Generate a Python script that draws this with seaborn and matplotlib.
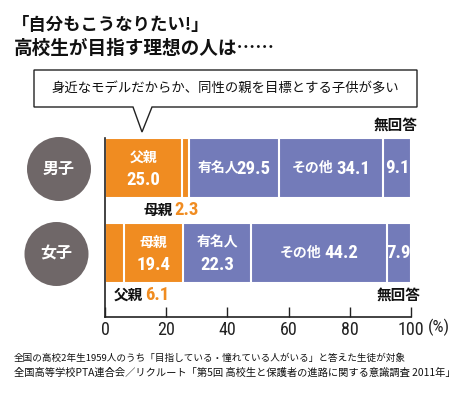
import numpy as np
import pandas as pd
import matplotlib
matplotlib.use("Agg")
import matplotlib.pyplot as plt
from matplotlib.patches import Circle, Polygon
import seaborn as sns

# ---- data ----
groups = ["男子", "女子"]
segments = ["父親", "母親", "有名人", "その他", "無回答"]
father = [25.0, 6.1]
mother = [2.3, 19.4]
celeb = [29.5, 22.3]
other = [34.1, 44.2]
noans = [9.1, 7.9]
xticks = [0, 20, 40, 60, 80, 100]

title_lines = ["「自分もこうなりたい!」", "高校生が目指す理想の人は……"]
callout = "身近なモデルだからか、同性の親を目標とする子供が多い"
notes = [
    "全国の高校2年生1959人のうち「目指している・憧れている人がいる」と答えた生徒が対象",
    "全国高等学校PTA連合会／リクルート「第5回 高校生と保護者の進路に関する意識調査 2011年」",
]

ORANGE = "#F08C21"
BLUE = "#737BB9"
GRAY = "#6F6768"

sns.set_theme(style="white")
plt.rcParams["font.family"] = ["Noto Sans CJK JP", "DejaVu Sans"]
NUM = ["Roboto Condensed", "Noto Sans CJK JP", "DejaVu Sans"]

df = pd.DataFrame({"group": groups, "父親": father, "母親": mother,
                   "有名人": celeb, "その他": other, "無回答": noans})
cum = df[segments].cumsum(axis=1)
colors = [ORANGE, ORANGE, BLUE, BLUE, BLUE]

fig = plt.figure(figsize=(4.62, 3.96), dpi=100)
ax = fig.add_axes([105 / 462, 1 - 317 / 396, 306 / 462, 179 / 396])

# stacked bars: draw from the full total down to the first segment
for seg, col in reversed(list(zip(segments, colors))):
    sns.barplot(x=cum[seg], y=df["group"], color=col, orient="h", width=0.706,
                edgecolor="white", linewidth=1.5, ax=ax, saturation=1)

ax.set_xlim(0, 100)
ax.set_ylim(1.753, -0.353)
ax.set_xticks(xticks)
ax.set_xticklabels([str(t) for t in xticks], family=NUM, fontsize=13, color="#222222")
ax.set_yticks([])
ax.set_xlabel("")
ax.set_ylabel("")
for s in ["top", "right"]:
    ax.spines[s].set_visible(False)
for s in ["left", "bottom"]:
    ax.spines[s].set_color("#222222")
    ax.spines[s].set_linewidth(1.2)
ax.tick_params(axis="x", direction="in", length=7, width=1, color="#222222", pad=3, bottom=True)

VAL_FS = 13.5
NAME_FS = 10

def center(row, seg):
    return cum.loc[row, seg] - df.loc[row, seg] / 2

def two_line(row, seg, dy=7.5):
    x = center(row, seg)
    ax.annotate(seg, (x, row), xytext=(0, dy), textcoords="offset points",
                ha="center", va="center", color="white", fontsize=NAME_FS, fontweight="bold")
    ax.annotate(f"{df.loc[row, seg]:.1f}", (x, row), xytext=(0, -dy - 1), textcoords="offset points",
                ha="center", va="center", color="white", fontsize=VAL_FS, fontweight="bold", family=NUM)

pairs = []

def one_line(row, seg, name=True, gap=2):
    x = center(row, seg)
    val = f"{df.loc[row, seg]:.1f}"
    if not name:
        ax.annotate(val, (x, row), ha="center", va="center", color="white",
                    fontsize=VAL_FS, fontweight="bold", family=NUM)
        return
    t1 = ax.annotate(seg, (x, row), xytext=(0, 0), textcoords="offset pixels",
                     ha="left", va="center", color="white", fontsize=NAME_FS, fontweight="bold")
    t2 = ax.annotate(val, (x, row), xytext=(0, -0.5), textcoords="offset pixels",
                     ha="left", va="center", color="white", fontsize=VAL_FS, fontweight="bold", family=NUM)
    pairs.append((t1, t2, gap))

# 男子
two_line(0, "父親")
one_line(0, "有名人", gap=-3)
one_line(0, "その他", gap=3)
one_line(0, "無回答", name=False)
# 女子
two_line(1, "母親")
two_line(1, "有名人")
one_line(1, "その他", gap=3)
one_line(1, "無回答", name=False)

# outside labels for thin segments and no-answer
def outside(row, seg, xy_x, dx, dy):
    ax.annotate(seg, (xy_x, row), xytext=(dx, dy), textcoords="offset points",
                ha="right", va="center", color="#111111", fontsize=10.5, fontweight="bold")
    ax.annotate(f"{df.loc[row, seg]:.1f}", (xy_x, row), xytext=(dx + 1.5, dy - 0.5), textcoords="offset points",
                ha="left", va="center", color=ORANGE, fontsize=VAL_FS, fontweight="bold", family=NUM)

outside(0, "母親", cum.loc[0, "父親"], -6.5, -30)
outside(1, "父親", cum.loc[1, "父親"], 14, -30)
ax.annotate("無回答", (100, 0), xytext=(4.5, 31), textcoords="offset points",
            ha="right", va="center", color="#111111", fontsize=10.5, fontweight="bold")
ax.annotate("無回答", (100, 1), xytext=(6.5, -30), textcoords="offset points",
            ha="right", va="center", color="#111111", fontsize=10.5, fontweight="bold")

# center each "name value" pair on its segment using measured widths
fig.canvas.draw()
renderer = fig.canvas.get_renderer()
for t1, t2, gap in pairs:
    w1 = t1.get_window_extent(renderer).width
    w2 = t2.get_window_extent(renderer).width
    left = -(w1 + gap + w2) / 2
    t1.xyann = (left, 0)
    t2.xyann = (left + w1 + gap, -0.5)

# ---- decorations in pixel space ----
ov = fig.add_axes([0, 0, 1, 1], zorder=5)
ov.set_xlim(0, 462)
ov.set_ylim(396, 0)
ov.axis("off")

ov.text(12, 25, title_lines[0], fontsize=12.5, fontweight="bold", va="center", ha="left", color="#111111")
ov.text(14, 48, title_lines[1], fontsize=13.4, fontweight="bold", va="center", ha="left", color="#111111")

box = [(34, 70), (417, 70), (417, 107), (152, 107), (142, 132), (133, 107), (34, 107)]
ov.add_patch(Polygon(box, closed=True, facecolor="white", edgecolor="#222222", linewidth=1))
ov.text(225, 88.5, callout, fontsize=9.6, ha="center", va="center", color="#111111")

for g, (cx, cy) in zip(groups, [(59, 169), (56.5, 254)]):
    ov.add_patch(Circle((cx, cy), 32, facecolor=GRAY, edgecolor="none"))
    ov.text(cx, cy, g, fontsize=11.5, fontweight="bold", color="white", ha="center", va="center")

ov.text(428, 327.5, "(%)", family=NUM, fontsize=12.5, ha="left", va="center", color="#222222")

ov.text(14, 358, notes[0], fontsize=6.9, ha="left", va="center", color="#111111")
ov.text(14, 373, notes[1], fontsize=7.4, ha="left", va="center", color="#111111")

fig.savefig("out.png", dpi=100)
